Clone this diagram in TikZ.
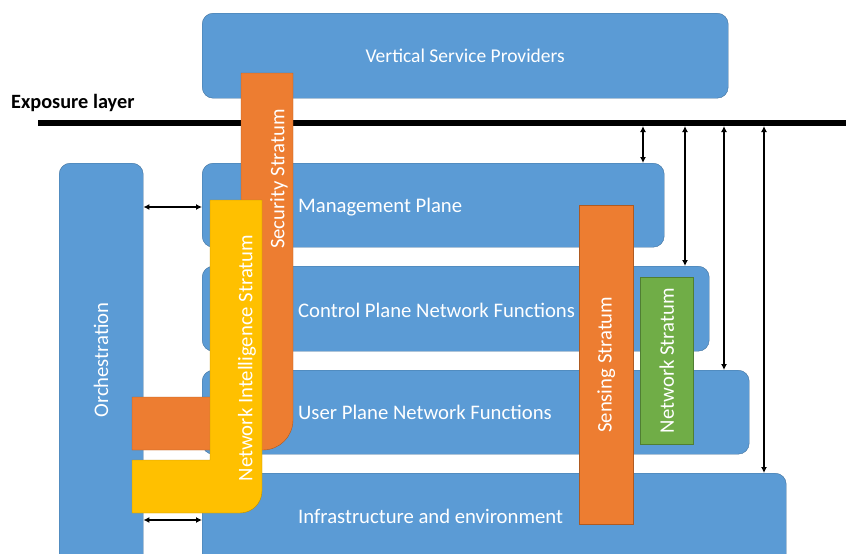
\documentclass[tikz,border=0pt]{standalone}
\usepackage{fontspec}
\setmainfont{Carlito}
\usepackage{tikz}
\usetikzlibrary{positioning,arrows.meta}

\definecolor{planeblue}{HTML}{5B9BD5}
\definecolor{planeline}{HTML}{41719C}
\definecolor{secorange}{HTML}{ED7D31}
\definecolor{secline}{HTML}{AE5A21}
\definecolor{niyellow}{HTML}{FFC000}
\definecolor{niline}{HTML}{BC8C00}
\definecolor{netgreen}{HTML}{70AD47}
\definecolor{netline}{HTML}{507E32}

\begin{document}
\begin{tikzpicture}[
  x=1pt, y=-1pt,
  font=\fontsize{20.7}{24}\selectfont,
  plane/.style={draw=planeline, fill=planeblue, rounded corners=11pt, anchor=north west, inner sep=0pt},
  lbl/.style={text=white, anchor=west, inner sep=0pt},
  vlbl/.style={text=white, rotate=90, inner sep=0pt},
  secfill/.style={draw=secline, fill=secorange},
  nifill/.style={draw=niline, fill=niyellow},
  netfill/.style={draw=netline, fill=netgreen},
  arr/.style={{Latex[length=6pt,width=6pt]}-{Latex[length=6pt,width=6pt]}, line width=1.6pt}]
\clip (0,0) rectangle (846,554);

% planes
\node[plane, minimum width=526, minimum height=85] (vsp) at (202,13) {};
\node[text=white, font=\fontsize{19.5}{23}\selectfont] (vsptxt) at (vsp.center) {Vertical Service Providers};
\node[plane, minimum width=84, minimum height=420] (orch) at (59,163) {};
\node[plane, minimum width=462, minimum height=84] (mgmt) at (202,163) {};
\node[plane, minimum width=507, minimum height=85] (ctrl) at (202,266) {};
\node[plane, minimum width=547, minimum height=84] (user) at (202,370) {};
\node[plane, minimum width=584, minimum height=110] (infra) at (202,473) {};
\node[vlbl] (orchtxt) at (101,360) {Orchestration};
\node[lbl] (mgmttxt) at (298,207) {Management Plane};
\node[lbl] (ctrltxt) at (298,310) {Control Plane Network Functions};
\node[lbl] (usertxt) at (298,412) {User Plane Network Functions};
\node[lbl] (infratxt) at (298,516) {Infrastructure and environment};

% exposure layer
\coordinate (expL) at (38,123);
\coordinate (expR) at (846,123);
\draw[line width=6pt] (expL) -- (expR);
\node[anchor=south west, inner sep=0pt, font=\fontsize{20.3}{23}\selectfont\bfseries] (exptxt) at (11,112) {Exposure layer};

% strata
\draw[secfill] (241,73) -- (293,73) {[rounded corners=30pt] -- (293,450)} -- (132,450) -- (132,397) -- (241,397) -- cycle;
\node[vlbl] (sectxt) at (279,179) {Security Stratum};
\draw[nifill] (210,200) -- (262,200) {[rounded corners=22pt] -- (262,513)} -- (132,513) -- (132,460) -- (210,460) -- cycle;
\node[vlbl] (nitxt) at (247,358) {Network Intelligence Stratum};
\node[secfill, minimum width=54, minimum height=319, inner sep=0pt, anchor=north west] (sens) at (579,205) {};
\node[vlbl] (senstxt) at (sens.center) {Sensing Stratum};
\node[netfill, minimum width=53, minimum height=167, inner sep=0pt, anchor=north west] (netw) at (640,277) {};
\node[vlbl] (netwtxt) at (netw.center) {Network Stratum};

% interfaces
\draw[arr] (643,126) -- (643,163);
\draw[arr] (685,126) -- (685,266);
\draw[arr] (724,126) -- (724,370);
\draw[arr] (764,126) -- (764,473);
\draw[arr] (orch.east |- mgmttxt) -- (mgmt.west |- mgmttxt);
\draw[arr] (orch.east |- 0,520) -- (infra.west |- 0,520);
\end{tikzpicture}
\end{document}
